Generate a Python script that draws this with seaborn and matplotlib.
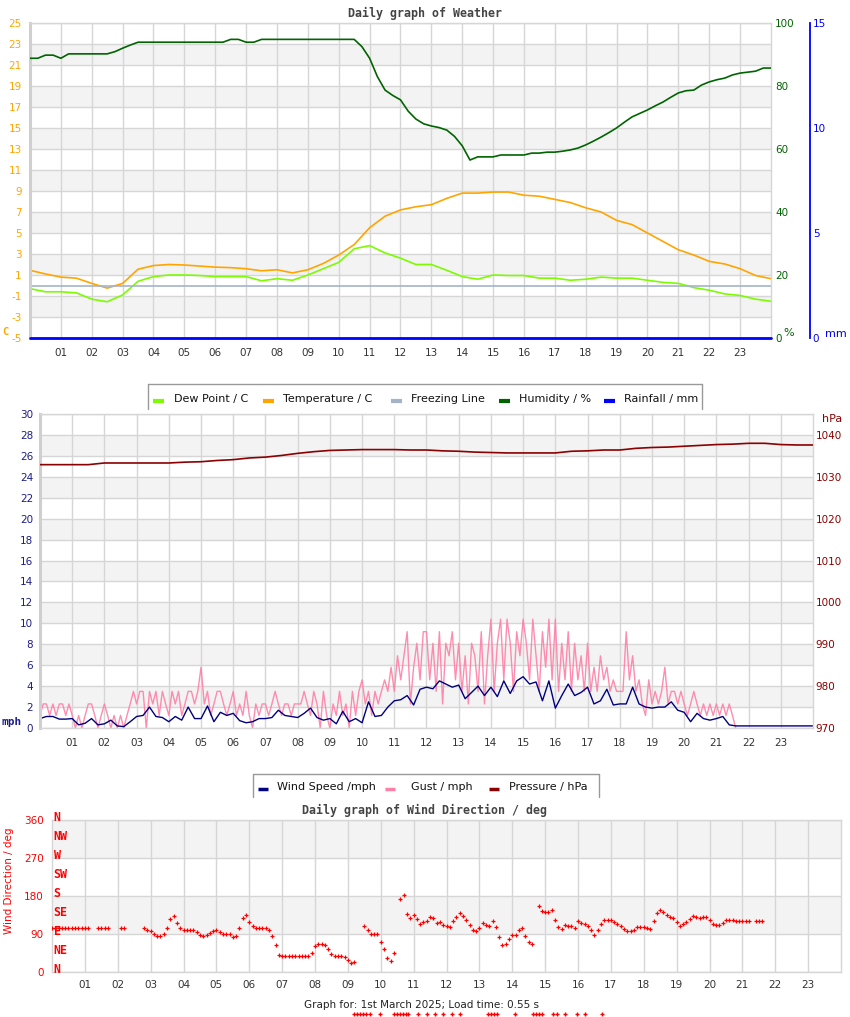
import numpy as np
import matplotlib
matplotlib.use("Agg")
import matplotlib.pyplot as plt
from matplotlib.lines import Line2D
import seaborn as sns

sns.set_style("white")
plt.rcParams['font.family'] = ['DejaVu Sans']
plt.rcParams['axes.unicode_minus'] = False

# ----------------------------------------------------------------- data
hour_ticks = [1, 2, 3, 4, 5, 6, 7, 8, 9, 10, 11, 12, 13, 14, 15, 16, 17, 18, 19, 20, 21, 22, 23]
hour_labels = ["01", "02", "03", "04", "05", "06", "07", "08", "09", "10", "11", "12",
               "13", "14", "15", "16", "17", "18", "19", "20", "21", "22", "23"]

# every 0.5 h from 00:00 to 24:00
temperature = [1.45, 1.1, 0.8, 0.7, 0.2, -0.25, 0.2, 1.55, 1.9, 2.0, 1.95, 1.85, 1.75, 1.7,
               1.6, 1.4, 1.5, 1.2, 1.5, 2.1, 2.9, 3.9, 5.5, 6.6, 7.2, 7.5, 7.7, 8.3, 8.8, 8.8,
               8.9, 8.9, 8.6, 8.5, 8.2, 7.9, 7.4, 7.0, 6.2, 5.8, 5.0, 4.2, 3.4, 2.9, 2.3, 2.05,
               1.6, 0.95, 0.65]
dew_point = [-0.3, -0.6, -0.6, -0.7, -1.3, -1.55, -0.9, 0.4, 0.85, 1.0, 1.0, 0.95, 0.85, 0.85,
             0.85, 0.45, 0.65, 0.5, 1.0, 1.6, 2.2, 3.5, 3.8, 3.1, 2.6, 2.0, 2.0, 1.45, 0.85, 0.6,
             1.0, 0.95, 0.95, 0.7, 0.7, 0.5, 0.6, 0.8, 0.7, 0.7, 0.5, 0.3, 0.2, -0.2, -0.45, -0.8,
             -0.95, -1.3, -1.5]
freezing_line = [0.0, 0.0]
freezing_hours = [0, 24]

# every 0.25 h from 00:00 to 24:00
humidity = [88.8, 88.8, 89.8, 89.8, 88.8, 90.2, 90.2, 90.2, 90.2, 90.2, 90.2, 90.9,
            92.0, 93.0, 93.9, 93.9, 93.9, 93.9, 93.9, 93.9, 93.9, 93.9, 93.9, 93.9,
            93.9, 93.9, 94.8, 94.8, 93.9, 93.9, 94.8, 94.8, 94.8, 94.8, 94.8, 94.8,
            94.8, 94.8, 94.8, 94.8, 94.8, 94.8, 94.8, 92.5, 88.8, 83.0, 78.7, 77.0,
            75.6, 72.0, 69.5, 68.0, 67.3, 66.8, 66.0, 64.0, 61.0, 56.5, 57.5, 57.5,
            57.5, 58.1, 58.1, 58.1, 58.1, 58.7, 58.7, 59.0, 59.0, 59.3, 59.7, 60.3,
            61.3, 62.5, 63.8, 65.2, 66.7, 68.5, 70.2, 71.3, 72.4, 73.7, 74.9, 76.4,
            77.8, 78.5, 78.7, 80.3, 81.3, 82.0, 82.5, 83.5, 84.1, 84.4, 84.7, 85.7, 85.7]

rain_hours = [0, 24]
rainfall = [0.0, 0.0]

# wind speed every 0.2 h (mph)
wind_speed = [0.9, 1.1, 1.1, 0.85, 0.85, 0.9, 0.3, 0.45, 0.9, 0.3,
              0.4, 0.75, 0.2, 0.13, 0.6, 1.1, 1.2, 2.0, 1.1, 1.0,
              0.6, 1.1, 0.75, 2.0, 0.9, 0.9, 2.1, 0.6, 1.5, 1.2,
              1.4, 0.7, 0.5, 0.6, 0.9, 0.9, 1.0, 1.7, 1.2, 1.1,
              1.0, 1.4, 1.9, 1.0, 0.75, 0.9, 0.4, 1.6, 0.6, 0.9,
              0.5, 2.5, 1.1, 1.2, 2.0, 2.6, 2.7, 3.1, 2.2, 3.7,
              3.9, 3.75, 4.5, 4.2, 3.9, 4.1, 2.8, 3.4, 4.0, 3.1,
              3.9, 3.0, 4.5, 3.3, 4.5, 4.9, 4.2, 4.4, 2.6, 4.5,
              1.9, 3.1, 4.2, 3.1, 3.4, 3.9, 2.3, 2.6, 3.7, 2.2,
              2.3, 2.3, 3.9, 2.3, 2.0, 1.9, 2.0, 2.0, 2.5, 1.7,
              1.5, 0.6, 1.4, 0.9, 0.75, 0.9, 1.1, 0.3, 0.2, 0.2,
              0.2, 0.2, 0.2, 0.2, 0.2, 0.2, 0.2, 0.2, 0.2, 0.2, 0.2]

# gust every 0.1 h (mph) until 21.6 h
gust = [1.2, 2.3, 2.3, 1.2, 2.3, 1.2, 2.3, 2.3, 1.2, 2.3,
        1.2, 0.0, 1.2, 0.0, 1.2, 2.3, 2.3, 1.2, 0.0, 1.2,
        2.3, 1.2, 0.0, 1.2, 0.0, 1.2, 0.0, 1.2, 2.3, 3.5,
        2.3, 3.5, 3.5, 0.0, 3.5, 2.3, 3.5, 1.2, 3.5, 2.3,
        1.2, 3.5, 2.3, 3.5, 1.2, 2.3, 3.5, 3.5, 2.3, 3.5,
        5.8, 2.3, 3.5, 1.2, 2.3, 3.5, 3.5, 2.3, 1.2, 2.3,
        3.5, 1.2, 2.3, 1.2, 3.5, 1.2, 0.0, 2.3, 1.2, 2.3,
        2.3, 1.2, 2.3, 3.5, 2.3, 1.2, 2.3, 2.3, 1.2, 2.3,
        2.3, 2.3, 3.5, 2.3, 1.2, 3.5, 2.3, 0.0, 3.5, 1.2,
        0.0, 2.3, 1.2, 3.5, 1.2, 2.3, 0.0, 3.5, 1.2, 3.5,
        4.6, 2.3, 3.5, 1.2, 3.5, 2.3, 3.5, 4.6, 3.5, 5.8,
        3.5, 6.9, 4.6, 6.9, 9.2, 2.3, 5.8, 8.1, 4.6, 9.2,
        9.2, 4.6, 8.1, 3.5, 9.2, 2.3, 8.1, 6.9, 9.2, 4.6,
        8.1, 3.5, 6.9, 2.3, 8.1, 6.9, 3.5, 9.2, 2.3, 6.9,
        10.4, 3.5, 8.1, 10.4, 4.6, 10.4, 8.1, 3.5, 9.2, 6.9,
        10.4, 8.1, 4.6, 10.4, 6.9, 3.5, 9.2, 5.8, 10.4, 4.6,
        10.4, 3.5, 8.1, 4.6, 9.2, 3.5, 8.1, 4.6, 6.9, 3.5,
        8.1, 3.5, 5.8, 3.5, 6.9, 4.6, 5.8, 3.5, 4.6, 3.5,
        3.5, 3.5, 9.2, 4.6, 6.9, 3.5, 4.6, 2.3, 1.2, 4.6,
        2.3, 3.5, 2.3, 3.5, 5.8, 2.3, 3.5, 3.5, 2.3, 3.5,
        2.3, 1.2, 2.3, 3.5, 2.3, 1.2, 2.3, 1.2, 2.3, 1.2,
        2.3, 1.2, 2.3, 1.2, 2.3, 1.2, 0.0]

# pressure every 0.5 h (hPa)
pressure = [1032.9, 1032.9, 1032.9, 1032.9, 1033.3, 1033.3, 1033.3, 1033.3, 1033.3, 1033.5,
            1033.6, 1033.9, 1034.1, 1034.5, 1034.7, 1035.1, 1035.6, 1036.0, 1036.3, 1036.4,
            1036.5, 1036.5, 1036.5, 1036.4, 1036.4, 1036.2, 1036.1, 1035.9, 1035.8, 1035.7,
            1035.7, 1035.7, 1035.7, 1036.1, 1036.2, 1036.4, 1036.4, 1036.8, 1037.0, 1037.1,
            1037.3, 1037.5, 1037.7, 1037.8, 1038.0, 1038.0, 1037.7, 1037.6, 1037.6]

nan = float("nan")
# wind direction every 0.1 h (deg) until 21.6 h
wind_direction = [104] * 12 + [nan] * 2 + [104] * 4 + [nan] * 3 + [104] * 2 + [nan] * 5 + [104, 100] + [
    96, 90, 86, 86, 90, 104, 125, 132, 115, 104,
    99, 99, 99, 99, 94, 88, 86, 87, 92, 97,
    99, 94, 91, 91, 90, 84, 85, 105, 128, 134,
    118, 108, 104, 104, 104, 104, 100, 85, 65, 40,
    37, 37, 37, 37, 37, 37, 37, 37, 37, 45,
    62, 67, 67, 63, 55, 42, 39, 39, 39, 35,
    28, 22, 24, nan, nan, 110, 100, 91, 90, 90,
    72, 55, 33, 26, 45, nan, 172, 183, 138, 128,
    135, 125, 114, 118, 120, 131, 128, 115, 118, 112,
    108, 106, 120, 131, 139, 132, 124, 112, 100, 96,
    105, 115, 112, 110, 120, 106, 83, 63, 67, 78,
    88, 87, 100, 104, 85, 72, 66, nan, 157, 145,
    141, 143, 147, 124, 106, 102, 111, 110, 110, 104,
    120, 117, 113, 108, 100, 88, 100, 113, 122, 124,
    124, 118, 114, 108, 103, 98, 96, 100, 106, 106,
    106, 105, 102, 120, 140, 147, 142, 135, 131, 128,
    118, 110, 114, 118, 126, 132, 130, 129, 131, 131,
    122, 113, 111, 111, 116, 124, 122, 122, 121, 121,
    121, 121, 121, nan, 121, 121, 121]

compass_labels = ["N", "NE", "E", "SE", "S", "SW", "W", "NW", "N"]
compass_degrees = [0, 45, 90, 135, 180, 225, 270, 315, 360]

stray_marker_x = [354, 357, 360, 363, 366, 370, 380, 394, 397, 400, 403, 406, 408, 418, 427,
                  435, 443, 452, 460, 488, 491, 494, 497, 515, 533, 536, 539, 542, 553, 557,
                  565, 577, 585, 602]

# time axes (hours) derived from sampling step
t_half = np.arange(len(temperature)) * 0.5
t_quarter = np.arange(len(humidity)) * 0.25
t_wind = np.arange(len(wind_speed)) * 0.2
t_gust = np.arange(len(gust)) * 0.1
t_press = np.arange(len(pressure)) * 0.5
t_dir = np.arange(len(wind_direction)) * 0.1

# ----------------------------------------------------------------- figure
W, H = 850, 1017
fig = plt.figure(figsize=(8.5, 10.17), dpi=100)


def fx(px):
    return px / W


def fy(py):
    return 1 - py / H


def rect(l, t, r, b):
    return [l / W, 1 - b / H, (r - l) / W, (b - t) / H]


GRID = '#d6d6d6'
BAND = '#f3f3f3'
FS = 7.5


def style(ax, bands, ylo, yhi, yticks, ycolor, xpad, ypad):
    ax.set_xlim(0, 24)
    ax.set_ylim(ylo, yhi)
    ax.set_xticks(hour_ticks)
    ax.set_xticklabels(hour_labels)
    ax.set_yticks(yticks)
    ax.set_axisbelow(True)
    ax.grid(True, color=GRID, linewidth=1)
    for lo, hi in bands:
        ax.axhspan(lo, hi, color=BAND, zorder=0.1, linewidth=0)
    for s in ax.spines.values():
        s.set_color(GRID)
        s.set_linewidth(1)
    ax.spines['left'].set_linewidth(2.2)
    ax.spines['left'].set_color('#cfcfcf')
    ax.tick_params(axis='both', length=0, labelsize=FS)
    ax.tick_params(axis='x', pad=xpad, colors='#333333')
    ax.tick_params(axis='y', pad=ypad, colors=ycolor)
    ax.set_xlabel("")
    ax.set_ylabel("")


def clear_twin(tw):
    for s in tw.spines.values():
        s.set_visible(False)
    tw.grid(False)
    tw.set_ylabel("")


# ---------------- top chart ----------------
ax1 = fig.add_axes(rect(30, 23, 771, 338))
sns.lineplot(x=t_half, y=dew_point, ax=ax1, color='#7cfc00', linewidth=1.2, estimator=None, legend=False)
sns.lineplot(x=t_half, y=temperature, ax=ax1, color='#ffa500', linewidth=1.2, estimator=None, legend=False)
sns.lineplot(x=freezing_hours, y=freezing_line, ax=ax1, color='#a3b4ca', linewidth=1.2, estimator=None, legend=False)
style(ax1, [(-3, -1), (1, 3), (5, 7), (9, 11), (13, 15), (17, 19), (21, 23)], -5, 25,
      list(range(-5, 26, 2)), '#ffa500', 7, 6)

ax1h = ax1.twinx()
sns.lineplot(x=t_quarter, y=humidity, ax=ax1h, color='#006400', linewidth=1.2,
             estimator=None, legend=False)
ax1h.set_ylim(0, 100)
ax1h.set_yticks([0, 20, 40, 60, 80, 100])
ax1h.tick_params(axis='y', length=0, labelsize=FS, colors='#006400', pad=3)
clear_twin(ax1h)

ax1r = ax1.twinx()
sns.lineplot(x=rain_hours, y=rainfall, ax=ax1r, color='#0000ff', linewidth=2,
             estimator=None, legend=False, clip_on=False)
ax1r.set_ylim(0, 15)
ax1r.set_yticks([0, 5, 10, 15])
clear_twin(ax1r)
ax1r.spines['right'].set_visible(True)
ax1r.spines['right'].set_position(('axes', (810 - 30) / 741))
ax1r.spines['right'].set_color('#0000ff')
ax1r.spines['right'].set_linewidth(1.3)
ax1r.tick_params(axis='y', length=0, labelsize=FS, colors='#0000ff', pad=2)
ax1.set_xlim(0, 24)

fig.text(fx(425), fy(13), "Daily graph of Weather", ha='center', va='center', fontsize=8.4,
         fontweight='bold', family='DejaVu Sans Mono', color='#444444')
fig.text(fx(5), fy(332), "C", ha='center', va='center', fontsize=7.5, fontweight='bold',
         family='DejaVu Sans Mono', color='#ffa500')
fig.text(fx(789), fy(333), "%", ha='center', va='center', fontsize=8, color='#006400')
fig.text(fx(836), fy(334), "mm", ha='center', va='center', fontsize=8, color='#0000ff')

# top legend (box open at bottom)
LEG_EDGE = '#999999'
for xs, ys in [([148, 702], [384, 384]), ([148, 148], [384, 409]), ([702, 702], [384, 409])]:
    fig.add_artist(Line2D([fx(v) for v in xs], [fy(v) for v in ys], color=LEG_EDGE, linewidth=1))
top_items = [("Dew Point / C", '#7cfc00', 153, 174), ("Temperature / C", '#ffa500', 263, 283),
             ("Freezing Line", '#a3b4ca', 391, 411), ("Humidity / %", '#006400', 499, 519),
             ("Rainfall / mm", '#0000ff', 604, 624)]
for label, col, mx, tx in top_items:
    fig.add_artist(Line2D([fx(mx), fx(mx + 11)], [fy(400.5), fy(400.5)], color=col, linewidth=3,
                          solid_capstyle='butt'))
    fig.text(fx(tx), fy(399), label, ha='left', va='center', fontsize=8, color='#111111')

# ---------------- middle chart ----------------
ax2 = fig.add_axes(rect(40, 414, 813, 728))
sns.lineplot(x=t_gust, y=gust, ax=ax2, color='#ff80a6', linewidth=1.0, alpha=0.9,
             estimator=None, legend=False)
sns.lineplot(x=t_wind, y=wind_speed, ax=ax2, color='#000080', linewidth=1.0,
             estimator=None, legend=False)
style(ax2, [(2, 4), (6, 8), (10, 12), (14, 16), (18, 20), (22, 24), (26, 28)], 0, 30,
      list(range(0, 31, 2)), '#1c1c8c', 7, 5)

ax2p = ax2.twinx()
sns.lineplot(x=t_press, y=pressure, ax=ax2p, color='#8b0000', linewidth=1.2,
             estimator=None, legend=False)
ax2p.set_ylim(970, 1045)
ax2p.set_yticks([970, 980, 990, 1000, 1010, 1020, 1030, 1040])
ax2p.tick_params(axis='y', length=0, labelsize=FS, colors='#8b0000', pad=2)
clear_twin(ax2p)
ax2.set_xlim(0, 24)

fig.text(fx(2), fy(722), "mph", ha='left', va='center', fontsize=8, fontweight='bold',
         family='DejaVu Sans Mono', color='#1c1c8c')
fig.text(fx(832), fy(419), "hPa", ha='center', va='center', fontsize=8, color='#8b0000')

for xs, ys in [([253, 599], [774, 774]), ([253, 253], [774, 797]), ([599, 599], [774, 797])]:
    fig.add_artist(Line2D([fx(v) for v in xs], [fy(v) for v in ys], color=LEG_EDGE, linewidth=1))
mid_items = [("Wind Speed /mph", '#000080', 258, 277), ("Gust / mph", '#ff80a6', 385, 411),
             ("Pressure / hPa", '#8b0000', 489, 509)]
for label, col, mx, tx in mid_items:
    fig.add_artist(Line2D([fx(mx), fx(mx + 10)], [fy(789), fy(789)], color=col, linewidth=2.5,
                          solid_capstyle='butt'))
    fig.text(fx(tx), fy(787), label, ha='left', va='center', fontsize=8, color='#111111')

# ---------------- bottom chart ----------------
ax3 = fig.add_axes(rect(52, 820, 841, 972))
sns.scatterplot(x=t_dir, y=wind_direction, ax=ax3, marker='+', color='#ff0000', s=10,
                linewidth=0.9, legend=False, zorder=3)
style(ax3, [(90, 180), (270, 360)], 0, 360, [0, 90, 180, 270, 360], '#ff0000', 6, 6)
ax3.spines['left'].set_linewidth(1)
ax3.spines['left'].set_color(GRID)
for lab, deg in zip(compass_labels, compass_degrees):
    ax3.text(0.002, deg + 6, lab, transform=ax3.get_yaxis_transform(), ha='left', va='center',
             fontsize=8.4, fontweight='bold', family='DejaVu Sans Mono', color='#ff0000', zorder=4)

fig.text(fx(9), fy(881), "Wind Direction / deg", rotation=90, ha='center', va='center',
         fontsize=7.5, color='#ff0000')
fig.text(fx(424), fy(810), "Daily graph of Wind Direction / deg", ha='center', va='center',
         fontsize=8.4, fontweight='bold', family='DejaVu Sans Mono', color='#444444')
fig.text(fx(421), fy(1005), "Graph for: 1st March 2025; Load time: 0.55 s", ha='center',
         va='center', fontsize=7.5, color='#222222')
fig.add_artist(Line2D([fx(v) for v in stray_marker_x], [fy(1014)] * len(stray_marker_x),
                      linestyle='none', marker='+', markersize=3, markeredgewidth=1.0,
                      color='#ff0000'))

fig.savefig("out.png", dpi=100)
